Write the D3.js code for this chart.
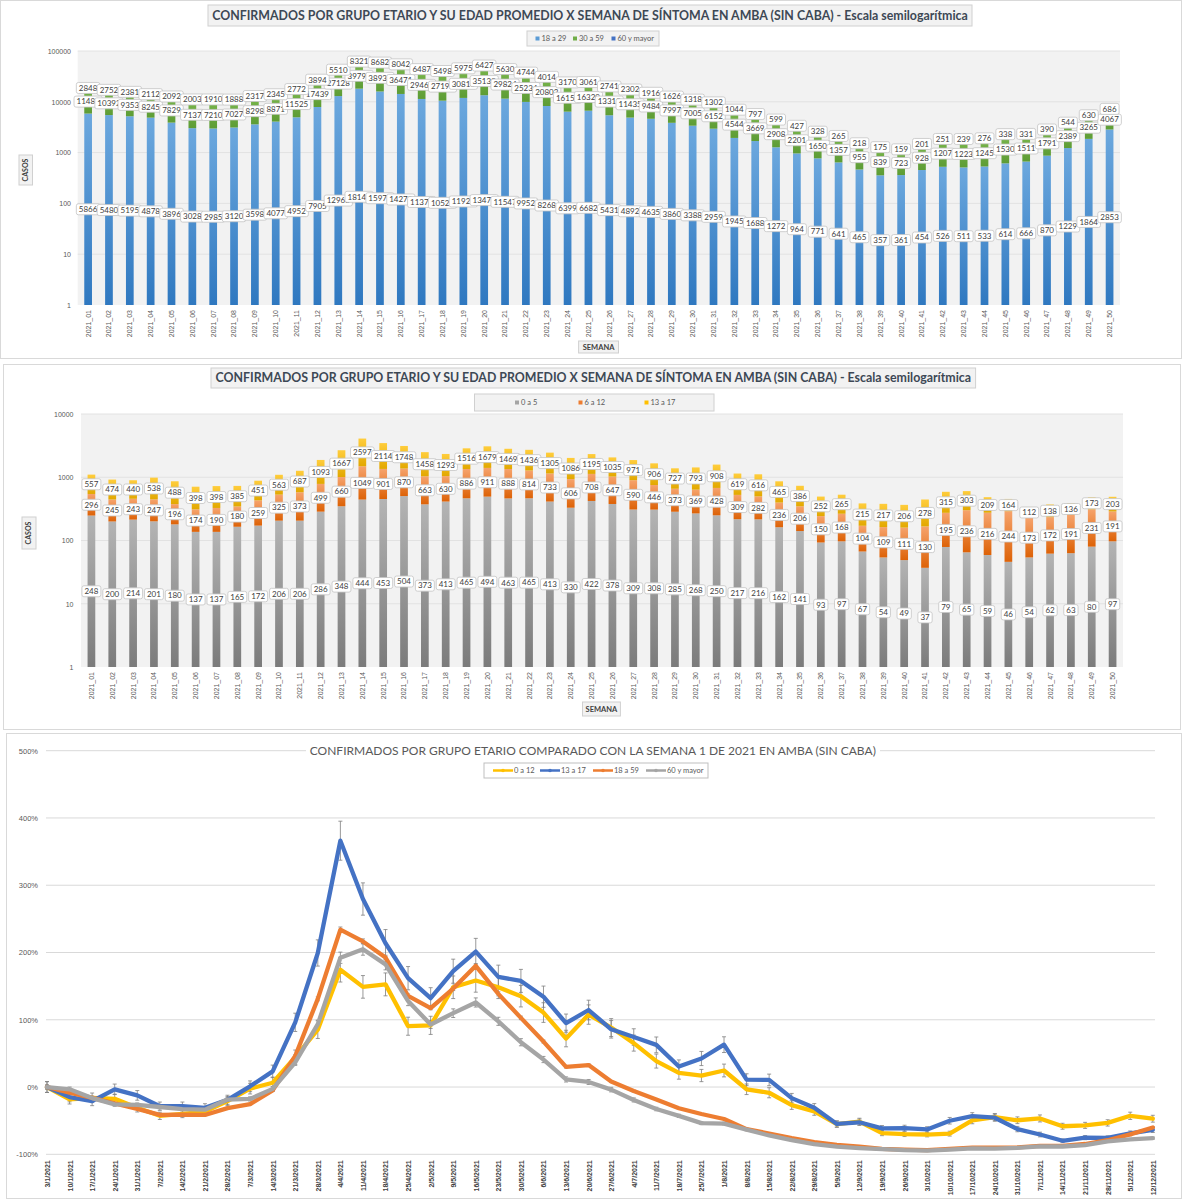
<!DOCTYPE html>
<html>
<head>
<meta charset="utf-8">
<script src="https://cdnjs.cloudflare.com/ajax/libs/d3/7.8.5/d3.min.js"></script>
<style>
  body { margin: 0; background: #fff; }
  svg { display: block; font-family: Lato, "Open Sans", "DejaVu Sans", sans-serif; }
</style>
</head>
<body>
<svg id="chart" width="1184" height="1200"></svg>
<script>
// ---- data -------------------------------------------------------------
const weekLabels = ["2021_01","2021_02","2021_03","2021_04","2021_05","2021_06","2021_07","2021_08","2021_09","2021_10",
  "2021_11","2021_12","2021_13","2021_14","2021_15","2021_16","2021_17","2021_18","2021_19","2021_20",
  "2021_21","2021_22","2021_23","2021_24","2021_25","2021_26","2021_27","2021_28","2021_29","2021_30",
  "2021_31","2021_32","2021_33","2021_34","2021_35","2021_36","2021_37","2021_38","2021_39","2021_40",
  "2021_41","2021_42","2021_43","2021_44","2021_45","2021_46","2021_47","2021_48","2021_49","2021_50"];

const dateLabels = ["3/1/2021","10/1/2021","17/1/2021","24/1/2021","31/1/2021","7/2/2021","14/2/2021","21/2/2021","28/2/2021","7/3/2021",
  "14/3/2021","21/3/2021","28/3/2021","4/4/2021","11/4/2021","18/4/2021","25/4/2021","2/5/2021","9/5/2021","16/5/2021",
  "23/5/2021","30/5/2021","6/6/2021","13/6/2021","20/6/2021","27/6/2021","4/7/2021","11/7/2021","18/7/2021","25/7/2021",
  "1/8/2021","8/8/2021","15/8/2021","22/8/2021","29/8/2021","5/9/2021","12/9/2021","19/9/2021","26/9/2021","3/10/2021",
  "10/10/2021","17/10/2021","24/10/2021","31/10/2021","7/11/2021","14/11/2021","21/11/2021","28/11/2021","5/12/2021","12/12/2021"];

// adults (top chart)
const cases18a29 = [5866,5480,5195,4878,3896,3028,2985,3120,3598,4077,4952,7905,12963,18145,15973,14272,11376,10521,11923,13473,
  11547,9952,8268,6399,6682,5431,4892,4635,3860,3388,2959,1945,1688,1272,964,771,641,465,357,361,
  454,526,511,533,614,666,870,1229,1864,2853];
const cases30a59 = [11481,10392,9353,8245,7829,7137,7210,7027,8298,8871,11525,17439,27128,39793,38931,36471,29462,27193,30816,35139,
  29824,25234,20802,16151,16320,13313,11435,9484,7997,7005,6152,4544,3669,2908,2201,1650,1357,955,839,723,
  928,1207,1223,1245,1530,1511,1791,2389,3265,4067];
const cases60mas = [2848,2752,2381,2112,2092,2003,1910,1888,2317,2345,2772,3894,5510,8321,8682,8042,6487,5498,5975,6427,
  5630,4744,4014,3170,3061,2741,2302,1916,1626,1318,1302,1044,797,599,427,328,265,218,175,159,
  201,251,239,276,338,331,390,544,630,686];

// children and teens (middle chart)
const cases0a5 = [248,200,214,201,180,137,137,165,172,206,206,286,348,444,453,504,373,413,465,494,
  463,465,413,330,422,378,309,308,285,268,250,217,216,162,141,93,97,67,54,49,
  37,79,65,59,46,54,62,63,80,97];
const cases6a12 = [296,245,243,247,196,174,190,180,259,325,373,499,660,1049,901,870,663,630,886,911,
  888,814,733,606,708,647,590,446,373,369,428,309,282,236,206,150,168,104,109,111,
  130,195,236,216,244,173,172,191,231,191];
const cases13a17 = [557,474,440,538,488,398,398,385,451,563,687,1093,1667,2597,2114,1748,1458,1293,1516,1679,
  1469,1436,1305,1086,1195,1035,971,906,727,793,908,619,616,465,386,252,265,215,217,206,
  278,315,303,209,164,112,138,136,173,203];

// change vs week 1, in % (bottom chart)
const pct0a12 = [0,-18.2,-16.0,-17.6,-30.9,-42.8,-39.9,-36.6,-20.8,-2.4,6.4,44.3,85.3,174.4,148.9,152.6,90.4,91.7,148.3,158.3,
  148.3,135.1,110.7,72.1,107.7,88.4,65.3,38.6,21.0,17.1,24.6,-3.3,-8.5,-26.8,-36.2,-55.3,-51.3,-68.6,-70.0,-70.6,
  -69.3,-49.6,-44.7,-49.4,-46.7,-58.3,-57.0,-53.3,-42.8,-47.1];
const pct13a17 = [0,-14.9,-21.0,-3.4,-12.4,-28.5,-28.5,-30.9,-19.0,1.1,23.3,96.2,199.3,366.2,279.5,213.8,161.8,132.1,172.2,201.4,
  163.7,157.8,134.3,95.0,114.5,85.8,74.3,62.7,30.5,42.4,63.0,11.1,10.6,-16.5,-30.7,-54.8,-52.4,-61.4,-61.0,-63.0,
  -50.1,-43.4,-45.6,-62.5,-70.6,-79.9,-75.2,-75.6,-68.9,-63.6];
const pct18a59 = [0,-8.5,-16.1,-24.4,-32.4,-41.4,-41.2,-41.5,-31.4,-25.4,-5.0,46.1,131.1,234.0,216.5,192.5,135.4,117.4,146.4,180.2,
  138.5,102.8,67.6,30.0,32.6,8.1,-5.9,-18.6,-31.6,-40.1,-47.5,-62.6,-69.1,-75.9,-81.8,-86.0,-88.5,-91.8,-93.1,-93.8,
  -92.0,-90.0,-90.0,-89.8,-87.6,-87.5,-84.7,-79.1,-70.4,-60.1];
const pct60mas = [0,-3.4,-16.4,-25.8,-26.5,-29.7,-32.9,-33.7,-18.6,-17.7,-2.7,36.7,93.5,192.2,204.8,182.4,127.8,93.0,109.8,125.7,
  97.7,66.6,40.9,11.3,7.5,-3.8,-19.2,-32.7,-42.9,-53.7,-54.3,-63.3,-72.0,-79.0,-85.0,-88.5,-90.7,-92.3,-93.9,-94.4,
  -92.9,-91.2,-91.6,-90.3,-88.1,-88.4,-86.3,-80.9,-77.9,-75.9];

// error bar half widths, in percentage points
const err0a12 = [8.1,7.0,7.1,7.0,6.2,5.4,5.6,5.8,6.8,7.9,8.4,10.7,13.1,18.3,16.8,17.0,13.4,13.5,16.8,17.3,
  16.8,16.0,14.6,12.3,14.4,13.3,11.9,10.4,9.3,9.1,9.5,7.9,7.5,6.4,5.8,4.6,4.9,3.7,3.6,3.5,
  3.6,5.0,5.3,5.0,5.2,4.4,4.5,4.7,5.4,5.1];
const err13a17 = [8.0,7.1,6.7,7.8,7.2,6.2,6.2,6.1,6.8,8.0,9.3,13.6,19.5,29.0,24.0,20.3,17.3,15.6,17.9,19.6,
  17.5,17.1,15.8,13.5,14.6,13.0,12.3,11.7,9.8,10.5,11.7,8.6,8.6,7.0,6.1,4.6,4.7,4.1,4.2,4.0,
  4.9,5.3,5.2,4.0,3.5,2.8,3.1,3.1,3.6,4.0];
const err18a59 = [1.4,1.3,1.2,1.1,1.0,0.9,0.9,0.9,1.0,1.1,1.4,2.0,2.9,3.9,3.7,3.4,2.9,2.6,3.0,3.4,
  3.0,2.6,2.1,1.7,1.7,1.4,1.3,1.1,0.9,0.8,0.7,0.6,0.5,0.4,0.3,0.3,0.3,0.2,0.2,0.2,
  0.2,0.2,0.2,0.2,0.3,0.3,0.3,0.4,0.5,0.6];
const err60mas = [3.5,3.4,3.1,2.8,2.8,2.7,2.6,2.6,3.0,3.1,3.5,4.5,5.9,8.4,8.8,8.2,6.8,5.9,6.4,6.8,
  6.0,5.3,4.6,3.8,3.7,3.4,3.0,2.6,2.4,2.1,2.0,1.8,1.5,1.3,1.0,0.9,0.8,0.7,0.7,0.6,
  0.7,0.8,0.8,0.8,0.9,0.9,1.0,1.2,1.3,1.4];

const titleStacked = "CONFIRMADOS POR GRUPO ETARIO Y SU EDAD PROMEDIO X SEMANA DE SÍNTOMA EN AMBA (SIN CABA) - Escala semilogarítmica";
const titleLines = "CONFIRMADOS POR GRUPO ETARIO COMPARADO CON LA SEMANA 1 DE 2021 EN AMBA (SIN CABA)";

// ---- helpers ----------------------------------------------------------
const svg = d3.select("#chart");
const defs = svg.append("defs");

function grad(id, bottom, top) {
  const lg = defs.append("linearGradient").attr("id", id)
    .attr("x1", 0).attr("y1", 1).attr("x2", 0).attr("y2", 0);
  lg.append("stop").attr("offset", "0%").attr("stop-color", bottom);
  lg.append("stop").attr("offset", "100%").attr("stop-color", top);
}
grad("gBlue", "#2f78c0", "#6ca8de");
grad("gGreen", "#5d9c35", "#78b54b");
grad("gNavy", "#3a63b4", "#4a78c8");
grad("gGrey", "#7b7b7b", "#b4b4b4");
grad("gOrange", "#dd6207", "#f6a36c");
grad("gYellow", "#e2a800", "#ffcd3c");

function panel(x, y, w, h) {
  svg.append("rect").attr("x", x + 0.5).attr("y", y + 0.5).attr("width", w).attr("height", h)
    .attr("fill", "#fff").attr("stroke", "#d9d9d9");
}

function fitText(sel, width) {
  const len = sel.node().getComputedTextLength();
  const fs = parseFloat(sel.attr("font-size"));
  sel.attr("font-size", fs * width / len);
}

function boxText(g, text, x0, x1, y0, y1, opts) {
  g.append("rect").attr("x", x0).attr("y", y0).attr("width", x1 - x0).attr("height", y1 - y0)
    .attr("fill", opts.fill || "#f2f2f2").attr("stroke", opts.stroke || "#d0d0d0");
  const t = g.append("text")
    .attr("font-size", opts.size).attr("font-weight", opts.weight || "normal")
    .attr("fill", opts.color || "#404040").attr("text-anchor", "middle")
    .text(text);
  if (opts.rotate) {
    t.attr("transform", `translate(${(x0 + x1) / 2},${(y0 + y1) / 2}) rotate(-90)`).attr("dy", "0.35em");
  } else {
    t.attr("x", (x0 + x1) / 2).attr("y", (y0 + y1) / 2).attr("dy", "0.36em");
  }
  if (opts.fit) fitText(t, opts.fit);
  return t;
}

// ---- stacked log bar chart ---------------------------------------------
function stackedLog(cfg) {
  panel(cfg.panel[0], cfg.panel[1], cfg.panel[2], cfg.panel[3]);
  const g = svg.append("g");

  const rows = weekLabels.map((w, i) => {
    const r = { week: w };
    cfg.keys.forEach((k, j) => { r[k] = cfg.series[j][i]; });
    return r;
  });

  const x = d3.scaleBand().domain(weekLabels).range([cfg.x0, cfg.x1])
    .paddingInner(0.63).paddingOuter(0.315);
  const y = d3.scaleLog().domain([1, cfg.max]).range([cfg.yBot, cfg.yTop]);

  g.append("rect").attr("x", cfg.x0).attr("y", cfg.yTop)
    .attr("width", cfg.x1 - cfg.x0).attr("height", cfg.yBot - cfg.yTop).attr("fill", "#f2f2f2");

  g.append("g").selectAll("line").data(cfg.ticks.slice(1)).join("line")
    .attr("x1", cfg.x0).attr("x2", cfg.x1)
    .attr("y1", d => y(d)).attr("y2", d => y(d))
    .attr("stroke", "#e2e2e2").attr("stroke-width", 1);

  const stacked = d3.stack().keys(cfg.keys)(rows);
  stacked.forEach((s, j) => {
    g.append("g").selectAll("rect").data(s).join("rect")
      .attr("x", d => x(d.data.week))
      .attr("width", x.bandwidth())
      .attr("y", d => y(d[1]))
      .attr("height", d => y(Math.max(1, d[0])) - y(d[1]))
      .attr("fill", `url(#${cfg.grads[j]})`);
  });

  // y axis
  const ya = g.append("g").attr("transform", `translate(${cfg.x0},0)`)
    .call(d3.axisLeft(y).tickValues(cfg.ticks).tickFormat(d3.format("d"))
      .tickSize(0).tickPadding(cfg.x0 - cfg.tickRight));
  ya.select(".domain").remove();
  ya.selectAll("text").attr("font-size", 7).attr("fill", "#595959").attr("font-family", null);

  // x axis
  const xa = g.append("g").attr("transform", `translate(0,${cfg.yBot})`)
    .call(d3.axisBottom(x).tickSize(0));
  xa.select(".domain").remove();
  xa.selectAll("text").attr("transform", "rotate(-90)")
    .attr("text-anchor", "end").attr("x", -5).attr("y", 0).attr("dy", "0.35em")
    .attr("font-size", 7).attr("fill", "#595959").attr("font-family", null);

  // data labels, centred on each segment in log space
  stacked.forEach((s, j) => {
    const lg = g.append("g");
    s.forEach(d => {
      const mid = Math.sqrt(Math.max(1, d[0]) * d[1]);
      const cx = x(d.data.week) + x.bandwidth() / 2;
      const cy = y(mid);
      const lab = lg.append("g");
      const box = lab.append("rect");
      const t = lab.append("text").attr("x", cx).attr("y", cy).attr("dy", "0.35em")
        .attr("text-anchor", "middle").attr("font-size", 8).attr("fill", "#404040")
        .text(cfg.series[j][weekLabels.indexOf(d.data.week)]);
      const w = t.node().getComputedTextLength() + 5;
      box.attr("x", cx - w / 2).attr("y", cy - 5.5).attr("width", w).attr("height", 11)
        .attr("rx", 2).attr("fill", "#fff").attr("stroke", "#c4c4c4").attr("stroke-width", 0.8);
    });
  });

  // title, legend, axis titles
  boxText(g, cfg.title, cfg.titleBox[0], cfg.titleBox[1], cfg.titleBox[2], cfg.titleBox[3],
    { size: 13, weight: "bold", color: "#3d4855", fit: cfg.titleBox[1] - cfg.titleBox[0] - 8 });

  g.append("rect").attr("x", cfg.legendBox[0]).attr("y", cfg.legendBox[2])
    .attr("width", cfg.legendBox[1] - cfg.legendBox[0]).attr("height", cfg.legendBox[3] - cfg.legendBox[2])
    .attr("fill", "#f2f2f2").attr("stroke", "#d0d0d0");
  const ly = (cfg.legendBox[2] + cfg.legendBox[3]) / 2;
  cfg.legend.forEach((it, i) => {
    g.append("rect").attr("x", cfg.legendX[i]).attr("y", ly - 2).attr("width", 4).attr("height", 4)
      .attr("fill", it.color);
    g.append("text").attr("x", cfg.legendX[i] + 6).attr("y", ly).attr("dy", "0.35em")
      .attr("font-size", 7.5).attr("fill", "#595959").text(it.label);
  });

  boxText(g, "CASOS", cfg.casosBox[0], cfg.casosBox[1], cfg.casosBox[2], cfg.casosBox[3],
    { size: 7, weight: "bold", rotate: true, fill: "#f2f2f2" });
  boxText(g, "SEMANA", cfg.semanaBox[0], cfg.semanaBox[1], cfg.semanaBox[2], cfg.semanaBox[3],
    { size: 7.5, weight: "bold", fill: "#f2f2f2" });
}

stackedLog({
  panel: [0, 0, 1181, 358],
  keys: ["a18a29", "a30a59", "a60mas"],
  series: [cases18a29, cases30a59, cases60mas],
  grads: ["gBlue", "gGreen", "gNavy"],
  x0: 77.7, x1: 1120, yTop: 51, yBot: 305, max: 100000,
  ticks: [1, 10, 100, 1000, 10000, 100000], tickRight: 71,
  title: titleStacked, titleBox: [208, 972, 5, 26],
  legendBox: [527, 659, 31, 46], legendX: [535.5, 573, 611.5],
  legend: [{ label: "18 a 29", color: "#5b9bd5" }, { label: "30 a 59", color: "#70ad47" },
           { label: "60 y mayor", color: "#4472c4" }],
  casosBox: [19, 32.5, 155, 185], semanaBox: [578.6, 618.5, 341, 353]
});

stackedLog({
  panel: [3, 364, 1177, 365],
  keys: ["c0a5", "c6a12", "c13a17"],
  series: [cases0a5, cases6a12, cases13a17],
  grads: ["gGrey", "gOrange", "gYellow"],
  x0: 81, x1: 1123, yTop: 414, yBot: 667, max: 10000,
  ticks: [1, 10, 100, 1000, 10000], tickRight: 73.5,
  title: titleStacked, titleBox: [211, 975.6, 368, 388],
  legendBox: [474.5, 714, 394, 411], legendX: [515, 578.5, 644.5],
  legend: [{ label: "0 a 5", color: "#a5a5a5" }, { label: "6 a 12", color: "#ed7d31" },
           { label: "13 a 17", color: "#ffc000" }],
  casosBox: [22, 36, 517, 549], semanaBox: [582.5, 620.4, 702, 716]
});

// ---- line chart ---------------------------------------------------------
(function () {
  panel(6, 733, 1175, 465);
  const g = svg.append("g");
  const x = d3.scalePoint().domain(dateLabels).range([47, 1152.8]);
  const y = d3.scaleLinear().domain([-100, 500]).range([1154.3, 750.7]);
  const ticks = [-100, 0, 100, 200, 300, 400, 500];

  g.append("g").selectAll("line").data(ticks).join("line")
    .attr("x1", 46).attr("x2", 1155)
    .attr("y1", d => y(d)).attr("y2", d => y(d))
    .attr("stroke", "#d9d9d9").attr("stroke-width", 1);

  const ya = g.append("g").attr("transform", "translate(46,0)")
    .call(d3.axisLeft(y).tickValues(ticks).tickFormat(d => d + "%").tickSize(0).tickPadding(8));
  ya.select(".domain").remove();
  ya.selectAll("text").attr("font-size", 7.5).attr("fill", "#595959").attr("font-family", null);

  const xa = g.append("g").attr("transform", `translate(0,${y(-100)})`)
    .call(d3.axisBottom(x).tickSize(0));
  xa.select(".domain").remove();
  xa.selectAll("text").attr("transform", "rotate(-90)")
    .attr("text-anchor", "end").attr("x", -6).attr("y", 0).attr("dy", "0.35em")
    .attr("font-size", 7).attr("font-weight", "bold").attr("fill", "#404040").attr("font-family", null);

  const series = [
    { label: "0 a 12", color: "#ffc000", values: pct0a12, err: err0a12 },
    { label: "13 a 17", color: "#4472c4", values: pct13a17, err: err13a17 },
    { label: "18 a 59", color: "#ed7d31", values: pct18a59, err: err18a59 },
    { label: "60 y mayor", color: "#a5a5a5", values: pct60mas, err: err60mas }
  ];

  // error bars
  series.forEach(s => {
    const eg = g.append("g").attr("stroke", "#7f7f7f").attr("stroke-width", 0.8);
    s.values.forEach((v, i) => {
      const cx = x(dateLabels[i]);
      const ytop = y(v + s.err[i]), ybot = y(v - s.err[i]);
      eg.append("line").attr("x1", cx).attr("x2", cx).attr("y1", ytop).attr("y2", ybot);
      eg.append("line").attr("x1", cx - 2).attr("x2", cx + 2).attr("y1", ytop).attr("y2", ytop);
      eg.append("line").attr("x1", cx - 2).attr("x2", cx + 2).attr("y1", ybot).attr("y2", ybot);
    });
  });

  const line = d3.line().x((d, i) => x(dateLabels[i])).y(d => y(d));
  series.forEach(s => {
    g.append("path").datum(s.values).attr("d", line)
      .attr("fill", "none").attr("stroke", s.color).attr("stroke-width", 4.3)
      .attr("stroke-linejoin", "round").attr("stroke-linecap", "round");
  });

  // title
  g.append("rect").attr("x", 306).attr("y", 742).attr("width", 574).attr("height", 17).attr("fill", "#fff");
  const tt = g.append("text").attr("x", 592.8).attr("y", 750.5).attr("dy", "0.36em")
    .attr("text-anchor", "middle").attr("font-size", 12.5).attr("fill", "#595959").text(titleLines);
  fitText(tt, 567);

  // legend
  g.append("rect").attr("x", 484).attr("y", 763).attr("width", 224).attr("height", 15)
    .attr("fill", "#fff").attr("stroke", "#bfbfbf");
  const legX = [493, 540, 593, 646];
  series.forEach((s, i) => {
    g.append("line").attr("x1", legX[i]).attr("x2", legX[i] + 20).attr("y1", 770.5).attr("y2", 770.5)
      .attr("stroke", s.color).attr("stroke-width", 2.5);
    g.append("circle").attr("cx", legX[i] + 10).attr("cy", 770.5).attr("r", 1.8).attr("fill", s.color);
    g.append("text").attr("x", legX[i] + 21).attr("y", 770.5).attr("dy", "0.35em")
      .attr("font-size", 7.5).attr("fill", "#595959").text(s.label);
  });
})();
</script>
</body>
</html>
